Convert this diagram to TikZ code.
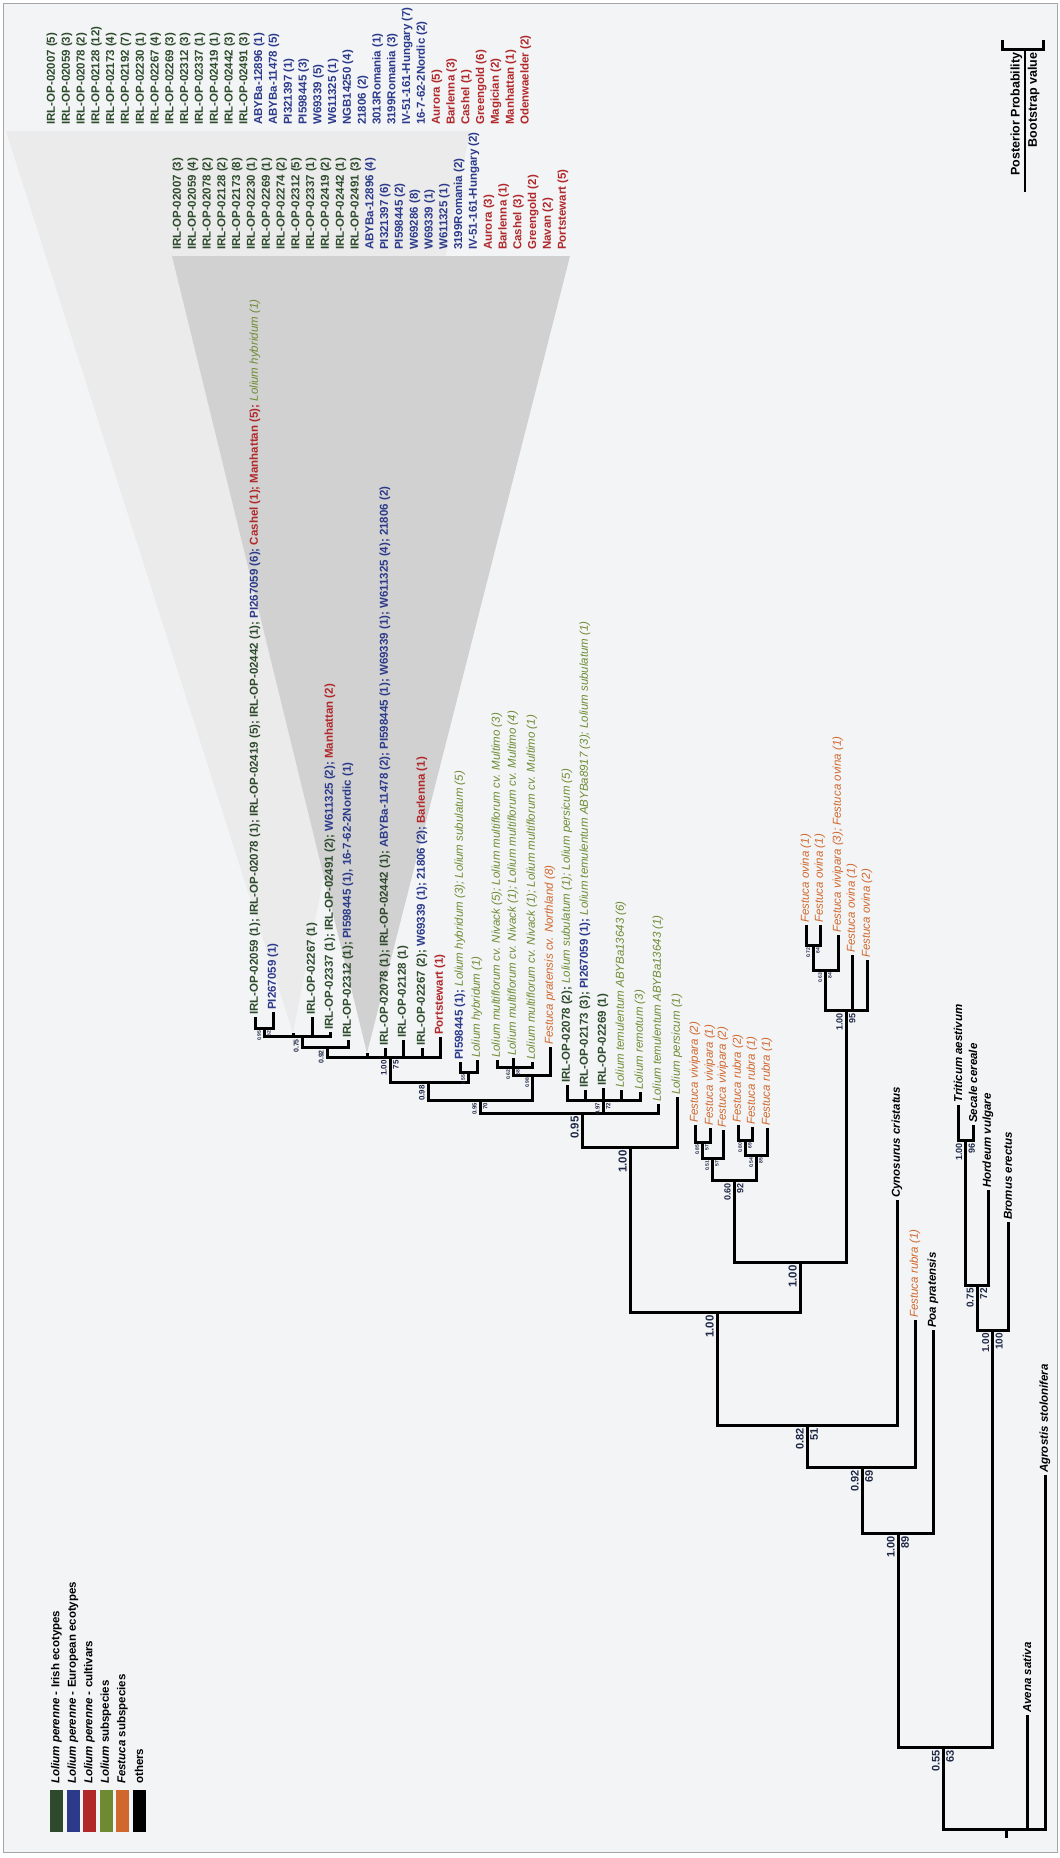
\documentclass[tikz,border=0pt]{standalone}
\usepackage{fontspec}
\setmainfont{Liberation Sans}
\definecolor{irish}{HTML}{2E4A2C}
\definecolor{euro}{HTML}{2C3A8A}
\definecolor{cult}{HTML}{B0282A}
\definecolor{lolsp}{HTML}{6E8B32}
\definecolor{festsp}{HTML}{D0672C}
\definecolor{supc}{HTML}{1E2846}
\definecolor{paper}{HTML}{F3F4F6}
\newcommand{\fs}[1]{\fontsize{#1}{#1}\selectfont}
\newcommand{\ir}[1]{\textcolor{irish}{#1}}
\newcommand{\eu}[1]{\textcolor{euro}{#1}}
\newcommand{\cu}[1]{\textcolor{cult}{#1}}
\newcommand{\ls}[1]{\textcolor{lolsp}{\mdseries\itshape #1}}
\newcommand{\fe}[1]{\textcolor{festsp}{\mdseries\itshape #1}}
\tikzset{
  branch/.style={line width=3pt},
  tiplab/.style={rotate=90, anchor=west, inner sep=2pt, font=\bfseries\fs{11.5}},
  supl/.style={rotate=90, inner sep=0.5pt, text=supc},
}
% posterior probability / bootstrap value below a node
\newcommand{\supp}[4]{%
  \node[supl, anchor=south east, font=\bfseries\fs{#4}] at ([xshift=-2.5pt,yshift=-2.5pt]#1) {#2};
  \node[supl, anchor=north east, font=\bfseries\fs{#4}] at ([xshift=2.5pt,yshift=-2.5pt]#1) {#3};}
\newcommand{\tip}[4]{%
  \coordinate (#1) at (#2);
  \node[tiplab] (l#1) at (#1) {#4};}
\begin{document}
\begin{tikzpicture}[x=1pt,y=-1pt]
  \useasboundingbox (0,0) rectangle (1060,1858);
  \fill[white] (0,0) rectangle (1060,1858);
  \filldraw[fill=paper, draw=gray!70, line width=0.8pt] (3,3) rectangle (1057,1852);

  % collapsed clades
  \coordinate (c1) at (293,1033);
  \coordinate (c2) at (367,1053);
  \fill[gray!16] (c1) -- (6,131) -- (470,131) -- cycle;
  \fill[gray!36] (c2) -- (172,256) -- (570,256) -- cycle;

  \foreach \lab/\col [count=\i from 0] in {
    IRL-OP-02007 (5)/irish, IRL-OP-02059 (3)/irish, IRL-OP-02078 (2)/irish,
    IRL-OP-02128 (12)/irish, IRL-OP-02173 (4)/irish, IRL-OP-02192 (7)/irish,
    IRL-OP-02230 (1)/irish, IRL-OP-02267 (4)/irish, IRL-OP-02269 (3)/irish,
    IRL-OP-02312 (3)/irish, IRL-OP-02337 (1)/irish, IRL-OP-02419 (1)/irish,
    IRL-OP-02442 (3)/irish, IRL-OP-02491 (3)/irish, ABYBa-12896 (1)/euro,
    ABYBa-11478 (5)/euro, PI321397 (1)/euro, PI598445 (3)/euro, W69339 (5)/euro,
    W611325 (1)/euro, NGB14250 (4)/euro, 21806 (2)/euro, 3013Romania (1)/euro,
    3199Romania (3)/euro, IV-51-161-Hungary (7)/euro, 16-7-62-2Nordic (2)/euro,
    Aurora (5)/cult, Barlenna (3)/cult, Cashel (1)/cult, Greengold (6)/cult,
    Magician (2)/cult, Manhattan (1)/cult, Odenwaelder (2)/cult}
    \node[tiplab, text=\col] (la\i) at (52+14.8*\i,127) {\lab};

  \foreach \lab/\col [count=\i from 0] in {
    IRL-OP-02007 (3)/irish, IRL-OP-02059 (4)/irish, IRL-OP-02078 (2)/irish,
    IRL-OP-02128 (2)/irish, IRL-OP-02173 (8)/irish, IRL-OP-02230 (1)/irish,
    IRL-OP-02269 (1)/irish, IRL-OP-02274 (2)/irish, IRL-OP-02312 (5)/irish,
    IRL-OP-02337 (1)/irish, IRL-OP-02419 (2)/irish, IRL-OP-02442 (1)/irish,
    IRL-OP-02491 (3)/irish, ABYBa-12896 (4)/euro, PI321397 (6)/euro,
    PI598445 (2)/euro, W69286 (8)/euro, W69339 (1)/euro, W611325 (1)/euro,
    3199Romania (2)/euro, IV-51-161-Hungary (2)/euro, Aurora (3)/cult,
    Barlenna (1)/cult, Cashel (3)/cult, Greengold (2)/cult, Navan (2)/cult,
    Portstewart (5)/cult}
    \node[tiplab, text=\col] (lb\i) at (178+14.8*\i,252) {\lab};

  % tips
  \tip{t01}{255,1017}{}{\ir{IRL-OP-02059 (1); IRL-OP-02078 (1); IRL-OP-02419 (5); IRL-OP-02442 (1);} \eu{PI267059 (6);} \cu{Cashel (1); Manhattan (5);} \ls{Lolium hybridum (1)}}
  \tip{t02}{273,1012}{}{\eu{PI267059 (1)}}
  \tip{t03}{312,1017}{}{\ir{IRL-OP-02267 (1)}}
  \tip{t04}{330,1032}{}{\ir{IRL-OP-02337 (1); IRL-OP-02491 (2);} \eu{W611325 (2);} \cu{Manhattan (2)}}
  \tip{t05}{348,1040}{}{\ir{IRL-OP-02312 (1);} \eu{PI598445 (1), 16-7-62-2Nordic (1)}}
  \tip{t06}{385,1048}{}{\ir{IRL-OP-02078 (1); IRL-OP-02442 (1);} \eu{ABYBa-11478 (2); PI598445 (1); W69339 (1); W611325 (4); 21806 (2)}}
  \tip{t07}{403,1040}{}{\ir{IRL-OP-02128 (1)}}
  \tip{t08}{422,1048}{}{\ir{IRL-OP-02267 (2);} \eu{W69339 (1); 21806 (2);} \cu{Barlenna (1)}}
  \tip{t09}{440,1037}{}{\cu{Portstewart (1)}}
  \tip{t10}{460,1062}{}{\eu{PI598445 (1);} \ls{Lolium hybridum (3); Lolium subulatum (5)}}
  \tip{t11}{477,1060}{}{\ls{Lolium hybridum (1)}}
  \tip{t12}{497,1060}{}{\ls{Lolium multiflorum cv. Nivack (5); Lolium multiflorum cv. Multimo (3)}}
  \tip{t13}{513,1058}{}{\ls{Lolium multiflorum cv. Nivack (1); Lolium multiflorum cv. Multimo (4)}}
  \tip{t14}{532,1062}{}{\ls{Lolium multiflorum cv. Nivack (1); Lolium multiflorum cv. Multimo (1)}}
  \tip{t15}{550,1047}{}{\fe{Festuca pratensis cv. Northland (8)}}
  \tip{t16}{567,1085}{}{\ir{IRL-OP-02078 (2);} \ls{Lolium subulatum (1); Lolium persicum (5)}}
  \tip{t17}{585,1090}{}{\ir{IRL-OP-02173 (3);} \eu{PI267059 (1);} \ls{Lolium temulentum ABYBa8917 (3); Lolium subulatum (1)}}
  \tip{t18}{603,1088}{}{\ir{IRL-OP-02269 (1)}}
  \tip{t19}{621,1090}{}{\ls{Lolium temulentum ABYBa13643 (6)}}
  \tip{t20}{640,1092}{}{\ls{Lolium remotum (3)}}
  \tip{t21}{658,1104}{}{\ls{Lolium temulentum ABYBa13643 (1)}}
  \tip{t22}{677,1097}{}{\ls{Lolium persicum (1)}}
  \tip{fv2}{695,1125}{}{\fe{Festuca vivipara (2)}}
  \tip{fv1}{710,1128}{}{\fe{Festuca vivipara (1)}}
  \tip{fv2b}{723,1130}{}{\fe{Festuca vivipara (2)}}
  \tip{fr2}{738,1125}{}{\fe{Festuca rubra (2)}}
  \tip{fr1}{752,1127}{}{\fe{Festuca rubra (1)}}
  \tip{fr1b}{767,1128}{}{\fe{Festuca rubra (1)}}
  \tip{fo1}{806,925}{}{\fe{Festuca ovina (1)}}
  \tip{fo1b}{820,925}{}{\fe{Festuca ovina (1)}}
  \tip{fv3}{838,935}{}{\fe{Festuca vivipara (3); Festuca ovina (1)}}
  \tip{fo1c}{852,955}{}{\fe{Festuca ovina (1)}}
  \tip{fo2}{867,960}{}{\fe{Festuca ovina (2)}}
  \tip{cyn}{897,1200}{}{\itshape Cynosurus cristatus}
  \tip{frr}{915,1320}{}{\fe{Festuca rubra (1)}}
  \tip{poa}{933,1330}{}{\itshape Poa pratensis}
  \tip{tri}{958,1105}{}{\itshape Triticum aestivum}
  \tip{sec}{973,1125}{}{\itshape Secale cereale}
  \tip{hor}{988,1190}{}{\itshape Hordeum vulgare}
  \tip{bro}{1008,1222}{}{\itshape Bromus erectus}
  \tip{ave}{1027,1715}{}{\itshape Avena sativa}
  \tip{agr}{1045,1475}{}{\itshape Agrostis stolonifera}

  % inner nodes
  \coordinate (N1) at (264,1028);  \coordinate (N2) at (302,1036);
  \coordinate (N3) at (327,1047);  \coordinate (N4) at (390,1057);
  \coordinate (N5) at (428,1082);  \coordinate (N7) at (468,1072);
  \coordinate (N9) at (513,1067);  \coordinate (N8) at (532,1075);
  \coordinate (N6) at (480,1100);  \coordinate (N10) at (603,1100);
  \coordinate (H) at (582,1113);   \coordinate (G) at (630,1147);
  \coordinate (R1) at (702,1142);  \coordinate (R2) at (712,1158);
  \coordinate (R3) at (745,1140);  \coordinate (R4) at (756,1155);
  \coordinate (R5) at (734,1180);  \coordinate (O1) at (813,945);
  \coordinate (O2) at (825,970);   \coordinate (O3) at (846,1010);
  \coordinate (F) at (800,1262);   \coordinate (E) at (717,1312);
  \coordinate (D) at (807,1425);   \coordinate (C) at (862,1467);
  \coordinate (B) at (898,1533);   \coordinate (Q1) at (965.5,1140);
  \coordinate (Q2) at (977,1285);  \coordinate (Q3) at (992.5,1330);
  \coordinate (A) at (943,1747);   \coordinate (root) at (1006,1829);
  \coordinate (stub) at (1006,1838);

  \draw[branch] (t01) |- (N1) -| (t02);
  \draw[branch] (N1) |- (N2) -| (t04);  \draw[branch] (N2) -| (c1);  \draw[branch] (N2) -| (t03);
  \draw[branch] (N2) |- (N3) -| (t05);
  \draw[branch] (N3) |- (N4) -| (t09);
  \foreach \c in {c2,t06,t07,t08} \draw[branch] (N4) -| (\c);
  \draw[branch] (t10) |- (N7) -| (t11);
  \draw[branch] (N4) |- (N5) -| (N7);
  \draw[branch] (t12) |- (N9) -| (t14);  \draw[branch] (N9) -| (t13);
  \draw[branch] (N9) |- (N8) -| (t15);
  \draw[branch] (N5) |- (N6) -| (N8);
  \draw[branch] (t16) |- (N10) -| (t20);
  \foreach \c in {t17,t18,t19} \draw[branch] (N10) -| (\c);
  \draw[branch] (N6) |- (H) -| (t21);  \draw[branch] (H) -| (N10);
  \draw[branch] (H) |- (G) -| (t22);
  \draw[branch] (fv2) |- (R1) -| (fv1);
  \draw[branch] (R1) |- (R2) -| (fv2b);
  \draw[branch] (fr2) |- (R3) -| (fr1);
  \draw[branch] (R3) |- (R4) -| (fr1b);
  \draw[branch] (R2) |- (R5) -| (R4);
  \draw[branch] (fo1) |- (O1) -| (fo1b);
  \draw[branch] (O1) |- (O2) -| (fv3);
  \draw[branch] (O2) |- (O3) -| (fo2);  \draw[branch] (O3) -| (fo1c);
  \draw[branch] (R5) |- (F) -| (O3);
  \draw[branch] (G) |- (E) -| (F);
  \draw[branch] (E) |- (D) -| (cyn);
  \draw[branch] (D) |- (C) -| (frr);
  \draw[branch] (C) |- (B) -| (poa);
  \draw[branch] (tri) |- (Q1) -| (sec);
  \draw[branch] (Q1) |- (Q2) -| (hor);
  \draw[branch] (Q2) |- (Q3) -| (bro);
  \draw[branch] (B) |- (A) -| (Q3);
  \draw[branch] (A) |- (root) -| (agr);  \draw[branch] (root) -| (ave);
  \draw[branch] (root) -- (stub);

  % support values
  \supp{N1}{0.95}{52}{5}   \supp{N2}{0.75}{}{7}    \supp{N3}{0.92}{}{7}
  \supp{N4}{1.00}{75}{8}   \supp{N5}{0.98}{}{8}    \supp{N7}{0.55}{}{5}
  \supp{N9}{0.62}{58}{5}   \supp{N8}{0.98}{}{5}    \supp{N6}{0.95}{70}{6}
  \supp{N10}{0.97}{72}{6}  \supp{H}{0.95}{}{11.5}  \supp{G}{1.00}{}{11.5}
  \supp{R1}{0.85}{57}{5}   \supp{R2}{0.51}{57}{5}  \supp{R3}{0.80}{69}{5}
  \supp{R4}{0.54}{85}{5}   \supp{R5}{0.60}{92}{9}  \supp{O1}{0.72}{64}{5}
  \supp{O2}{0.63}{84}{5}   \supp{O3}{1.00}{95}{9}  \supp{F}{1.00}{}{11.5}
  \supp{E}{1.00}{}{11.5}   \supp{D}{0.82}{51}{11}  \supp{C}{0.92}{69}{11}
  \supp{B}{1.00}{89}{11}   \supp{A}{0.55}{63}{11}  \supp{Q1}{1.00}{96}{9}
  \supp{Q2}{0.75}{72}{10}  \supp{Q3}{1.00}{100}{10}

  % legend
  \foreach \txt/\col [count=\i from 0] in {
    {\itshape Lolium perenne} - Irish ecotypes/irish,
    {\itshape Lolium perenne} - European ecotypes/euro,
    {\itshape Lolium perenne} - cultivars/cult,
    {\itshape Lolium} subspecies/lolsp,
    {\itshape Festuca} subspecies/festsp,
    others/black} {
    \fill[\col] (50+16.5*\i,1790) rectangle (63+16.5*\i,1832);
    \node[tiplab, font=\bfseries\fs{11.5}] (lg\i) at (56.5+16.5*\i,1786) {\txt};
  }

  % key
  \coordinate (kl) at (1002,40); \coordinate (kr) at (1043,40);
  \coordinate (kn) at (1025,49); \coordinate (ks) at (1025,192);
  \draw[branch] (kl) |- (kn) -| (kr);
  \draw[line width=2pt] (kn) -- (ks);
  \node[supl, text=black, anchor=south east, font=\bfseries\fs{12.5}] (kpp) at ([xshift=-2pt,yshift=-3pt]kn) {Posterior Probability};
  \node[supl, text=black, anchor=north east, font=\bfseries\fs{12.5}] (kbs) at ([xshift=2pt,yshift=-3pt]kn) {Bootstrap value};
\end{tikzpicture}
\end{document}
